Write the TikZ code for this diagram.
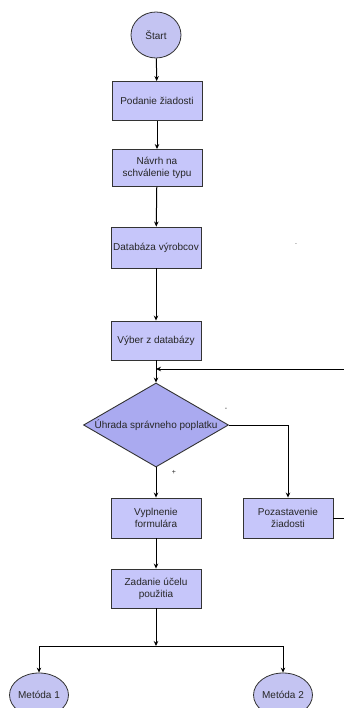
\documentclass[tikz,border=0pt]{standalone}
\usepackage{fontspec}
\setmainfont{Liberation Sans}
\usetikzlibrary{shapes.geometric,arrows.meta}
\definecolor{boxfill}{HTML}{C6C6FA}
\definecolor{diafill}{HTML}{AAAAF0}
\definecolor{circfill}{HTML}{C4C4F2}
\definecolor{edge}{HTML}{333333}
\tikzset{
  x=1pt, y=-1pt,
  every node/.style={font=\fontsize{10}{12}\selectfont, text=black!85},
  proc/.style={draw=edge, line width=0.9pt, fill=boxfill, minimum width=90pt, minimum height=39pt, inner sep=1pt, align=center},
  term/.style={draw=edge, line width=0.8pt, fill=circfill, ellipse, inner sep=0pt},
  dec/.style={draw=edge, line width=0.9pt, fill=diafill, diamond, minimum width=145pt, minimum height=84pt, inner sep=0pt},
  conn/.style={draw=black, line width=1pt, -{Stealth[length=5pt,width=4.5pt]}},
  signlbl/.style={font=\fontsize{7}{8}\selectfont, inner sep=0pt}
}
\begin{document}
\begin{tikzpicture}
\useasboundingbox (0,0) rectangle (344,708);
\node[term, minimum width=50pt, minimum height=46pt] (start) at (156,35) {Štart};
\node[proc] (p1) at (157,101) {Podanie žiadosti};
\node[proc, minimum height=37pt] (p2) at (157,168) {Návrh na\\schválenie typu};
\node[proc, minimum height=41pt] (p3) at (156,247.5) {Databáza výrobcov};
\node[proc] (p4) at (156,340.5) {Výber z databázy};
\node[dec] (d) at (156,425) {};
\node (dt) at (d.center) {Úhrada správneho poplatku};
\node[proc, minimum height=40pt] (p5) at (156,518) {Vyplnenie\\formulára};
\node[proc, minimum height=40pt] (p6) at (288,518) {Pozastavenie\\žiadosti};
\node[proc] (p7) at (156,588.5) {Zadanie účelu\\použitia};
\coordinate (j1) at (156,369);
\coordinate (r1) at (347,369);
\coordinate (r2) at (347,518);
\coordinate (j2) at (156,646);
\node[term, minimum width=58pt, minimum height=44pt] (m1) at (39,695) {Metóda 1};
\node[term, minimum width=58pt, minimum height=44pt] (m2) at (283,695) {Metóda 2};
\node[signlbl] (minus) at (226,409) {-};
\node[signlbl] (plus) at (174,472) {+};
\node[signlbl] (dot) at (296,244) {.};
\draw[conn] (start) -- (p1);
\draw[conn] (p1) -- (p2);
\draw[conn] (p2) -- (p3);
\draw[conn] (p3) -- (p4);
\draw[conn] (p4) -- (d.north);
\draw[conn] (p6.east) -- (r2) -- (r1) -- (j1);
\draw[conn] (d.south) -- (p5);
\draw[conn] (d.east) -| (p6.north);
\draw[conn] (p5) -- (p7);
\draw[conn] (p7) -- (j2);
\draw[conn] (j2) -| (m1.north);
\draw[conn] (j2) -| (m2.north);
\end{tikzpicture}
\end{document}
